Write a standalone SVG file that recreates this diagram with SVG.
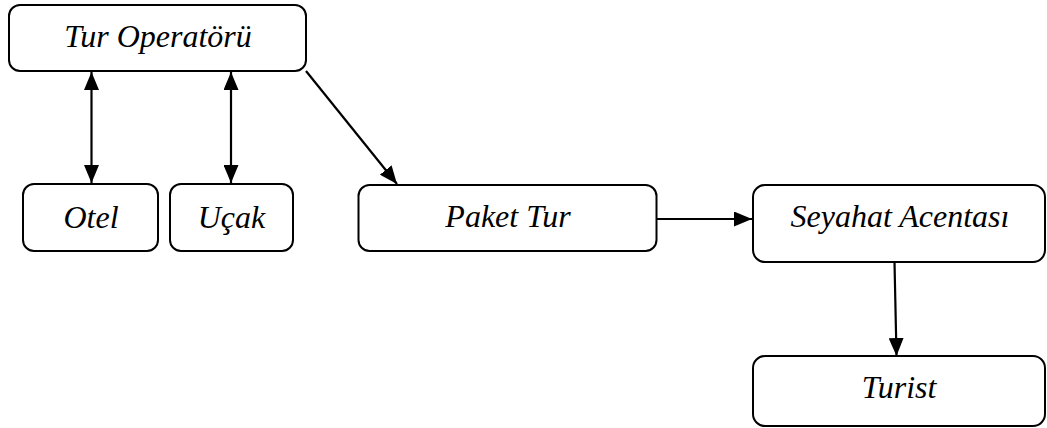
<svg xmlns="http://www.w3.org/2000/svg" width="1047" height="428" viewBox="0 0 1047 428">
  <style>
    .box { fill: #ffffff; stroke: #000000; stroke-width: 2; }
    .label { font-family: 'Liberation Serif', 'DejaVu Serif', serif; font-style: italic; font-size: 32px; fill: #000000; text-anchor: middle; }
    .edge { fill: none; stroke: #000000; stroke-width: 2.2; }
  </style>
  <defs>
    <marker id="arrow-end" viewBox="0 0 18 15" refX="18" refY="7.5" markerWidth="18" markerHeight="15" markerUnits="userSpaceOnUse" orient="auto">
      <path d="M0,0 L18,7.5 L0,15 Z" fill="#000000"/>
    </marker>
    <marker id="arrow-start" viewBox="0 0 18 15" refX="0" refY="7.5" markerWidth="18" markerHeight="15" markerUnits="userSpaceOnUse" orient="auto">
      <path d="M18,0 L0,7.5 L18,15 Z" fill="#000000"/>
    </marker>
  </defs>

  <rect width="1047" height="428" fill="#ffffff"/>

  <g id="connectors">
    <line class="edge" x1="91.5" y1="72" x2="91.5" y2="183" marker-start="url(#arrow-start)" marker-end="url(#arrow-end)"/>
    <line class="edge" x1="231" y1="72" x2="231" y2="183" marker-start="url(#arrow-start)" marker-end="url(#arrow-end)"/>
    <line class="edge" x1="306" y1="71" x2="397" y2="184" marker-end="url(#arrow-end)"/>
    <line class="edge" x1="657" y1="219" x2="752" y2="219" marker-end="url(#arrow-end)"/>
    <line class="edge" x1="894.5" y1="262" x2="896.5" y2="356" marker-end="url(#arrow-end)"/>
  </g>

  <g id="tur-operatoru">
    <rect class="box" x="9" y="5" width="297" height="66" rx="11" ry="11"/>
    <text class="label" x="158" y="47" font-family="Liberation Serif">Tur Operatörü</text>
  </g>

  <g id="otel">
    <rect class="box" x="23" y="184" width="135" height="67" rx="11" ry="11"/>
    <text class="label" x="91" y="228" font-family="Liberation Serif">Otel</text>
  </g>

  <g id="ucak">
    <rect class="box" x="170" y="184" width="123" height="67" rx="11" ry="11"/>
    <text class="label" x="231.5" y="228" font-family="Liberation Serif">Uçak</text>
  </g>

  <g id="paket-tur">
    <rect class="box" x="358.5" y="185" width="298" height="66" rx="11" ry="11"/>
    <text class="label" x="508" y="227" font-family="Liberation Serif">Paket Tur</text>
  </g>

  <g id="seyahat-acentasi">
    <rect class="box" x="753" y="185" width="292" height="77" rx="12" ry="12"/>
    <text class="label" x="900" y="227" font-family="Liberation Serif">Seyahat Acentası</text>
  </g>

  <g id="turist">
    <rect class="box" x="753" y="356" width="292" height="70" rx="12" ry="12"/>
    <text class="label" x="899" y="398" font-family="Liberation Serif">Turist</text>
  </g>
</svg>
